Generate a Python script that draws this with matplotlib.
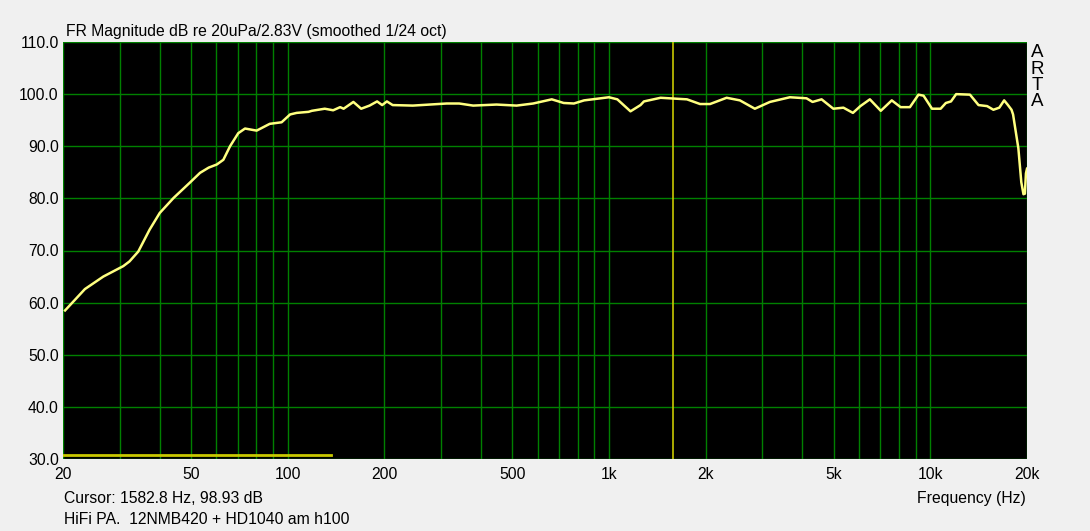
import numpy as np
import matplotlib
matplotlib.use("Agg")
import matplotlib.pyplot as plt
from matplotlib.ticker import FixedLocator, NullFormatter

# frequency response
freq = [20.3, 23.4, 26.7, 30.8, 32.2, 34.3, 37.2, 40.0, 44.2, 49.6, 53.4, 56.8,
        60.2, 63.1, 66.2, 70.2, 73.7, 80.1, 88.0, 95.8, 101.8, 106.7, 116.2,
        119, 130.5, 138.6, 145.7, 149.4, 160.2, 169.4, 179.9, 189.9, 196.9,
        203.7, 212.3, 245.3, 312.6, 342, 378, 447, 516, 581, 664, 723, 778,
        837, 1000, 1062, 1167, 1254, 1285, 1448, 1749, 1921, 2064, 2324, 2556,
        2845, 3169, 3656, 4119, 4302, 4590, 4993, 5367, 5745, 6060, 6487, 7015,
        7589, 8086, 8642, 9190, 9530, 10125, 10770, 11180, 11600, 12040, 13290,
        14130, 15030, 15720, 16400, 16980, 17400, 17900, 18100, 18800, 19200,
        19500, 19700, 19850, 20000]
spl = [58.5, 62.6, 65.0, 67.0, 67.9, 69.8, 74.0, 77.2, 80.1, 83.0, 84.9, 85.9,
       86.5, 87.4, 90.0, 92.5, 93.4, 93.0, 94.3, 94.6, 96.1, 96.4, 96.6,
       96.8, 97.2, 96.9, 97.5, 97.2, 98.5, 97.2, 97.8, 98.6, 97.9,
       98.6, 97.9, 97.8, 98.2, 98.2, 97.8, 98.0, 97.8, 98.2, 99.0, 98.3, 98.2,
       98.8, 99.4, 99.0, 96.7, 97.9, 98.6, 99.3, 99.0, 98.1, 98.1, 99.3, 98.8,
       97.2, 98.5, 99.4, 99.2, 98.5, 99.0, 97.2, 97.4, 96.4, 97.7, 99.0, 96.8,
       98.8, 97.5, 97.5, 99.9, 99.7, 97.2, 97.2, 98.3, 98.6, 100.0, 99.9,
       97.9, 97.7, 97.0, 97.4, 98.8, 98.0, 97.0, 96.1, 89.6, 83.1,
       80.8, 80.9, 84.8, 85.7]

noise_freq = [20, 136]
noise_spl = [30.7, 30.7]

cursor_f = 1582.8
cursor_db = 98.93

xticks = [20, 50, 100, 200, 500, 1000, 2000, 5000, 10000, 20000]
xlabels = ["20", "50", "100", "200", "500", "1k", "2k", "5k", "10k", "20k"]
grid_f = [20, 30, 40, 50, 60, 70, 80, 90, 100, 200, 300, 400, 500, 600, 700,
          800, 900, 1000, 2000, 3000, 4000, 5000, 6000, 7000, 8000, 9000,
          10000, 20000]
yticks = np.arange(30, 111, 10)

plt.rcParams['font.family'] = ['Liberation Sans', 'DejaVu Sans']
fs = 11.3

fig = plt.figure(figsize=(10.9, 5.31), dpi=100, facecolor="#F0F0F0")
ax = fig.add_axes([63/1090, 1 - 459/531, 964/1090, 417/531])
ax.set_facecolor("black")

for f in grid_f:
    ax.axvline(f, color="#008000", lw=1, zorder=1, snap=True)
for y in yticks:
    ax.axhline(y, color="#008000", lw=1, zorder=1, snap=True)

ax.axvline(cursor_f, color="#C8C800", lw=1.2, zorder=2)
ax.plot(noise_freq, noise_spl, color="#C8C800", lw=2, zorder=3)
ax.plot(freq, spl, color="#FFFF80", lw=1.8, zorder=4)

ax.set_xscale("log")
ax.set_xlim(20, 20000)
ax.set_ylim(30, 110)
ax.xaxis.set_major_locator(FixedLocator(xticks))
ax.set_xticklabels(xlabels)
ax.xaxis.set_minor_formatter(NullFormatter())
ax.set_yticks(yticks)
ax.set_yticklabels([f"{v:.1f}" for v in yticks])
ax.tick_params(which="both", length=0, labelsize=fs, colors="black", pad=6)
ax.tick_params(axis="y", pad=3)
for s in ax.spines.values():
    s.set_visible(False)

fig.text(66/1090, 1 - 36/531, "FR Magnitude dB re 20uPa/2.83V (smoothed 1/24 oct)",
         fontsize=fs, va="baseline", ha="left")
fig.text(64/1090, 1 - 503/531, f"Cursor: {cursor_f} Hz, {cursor_db} dB",
         fontsize=fs, va="baseline", ha="left")
fig.text(64/1090, 1 - 524/531, "HiFi PA.  12NMB420 + HD1040 am h100",
         fontsize=fs, va="baseline", ha="left")
fig.text(1026/1090, 1 - 503/531, "Frequency (Hz)",
         fontsize=fs, va="baseline", ha="right")
for i, ch in enumerate("ARTA"):
    fig.text(1037/1090, 1 - (57 + i * 16.5)/531, ch, fontsize=13.5,
             va="baseline", ha="center")

fig.savefig("out.png", dpi=100, facecolor=fig.get_facecolor())
